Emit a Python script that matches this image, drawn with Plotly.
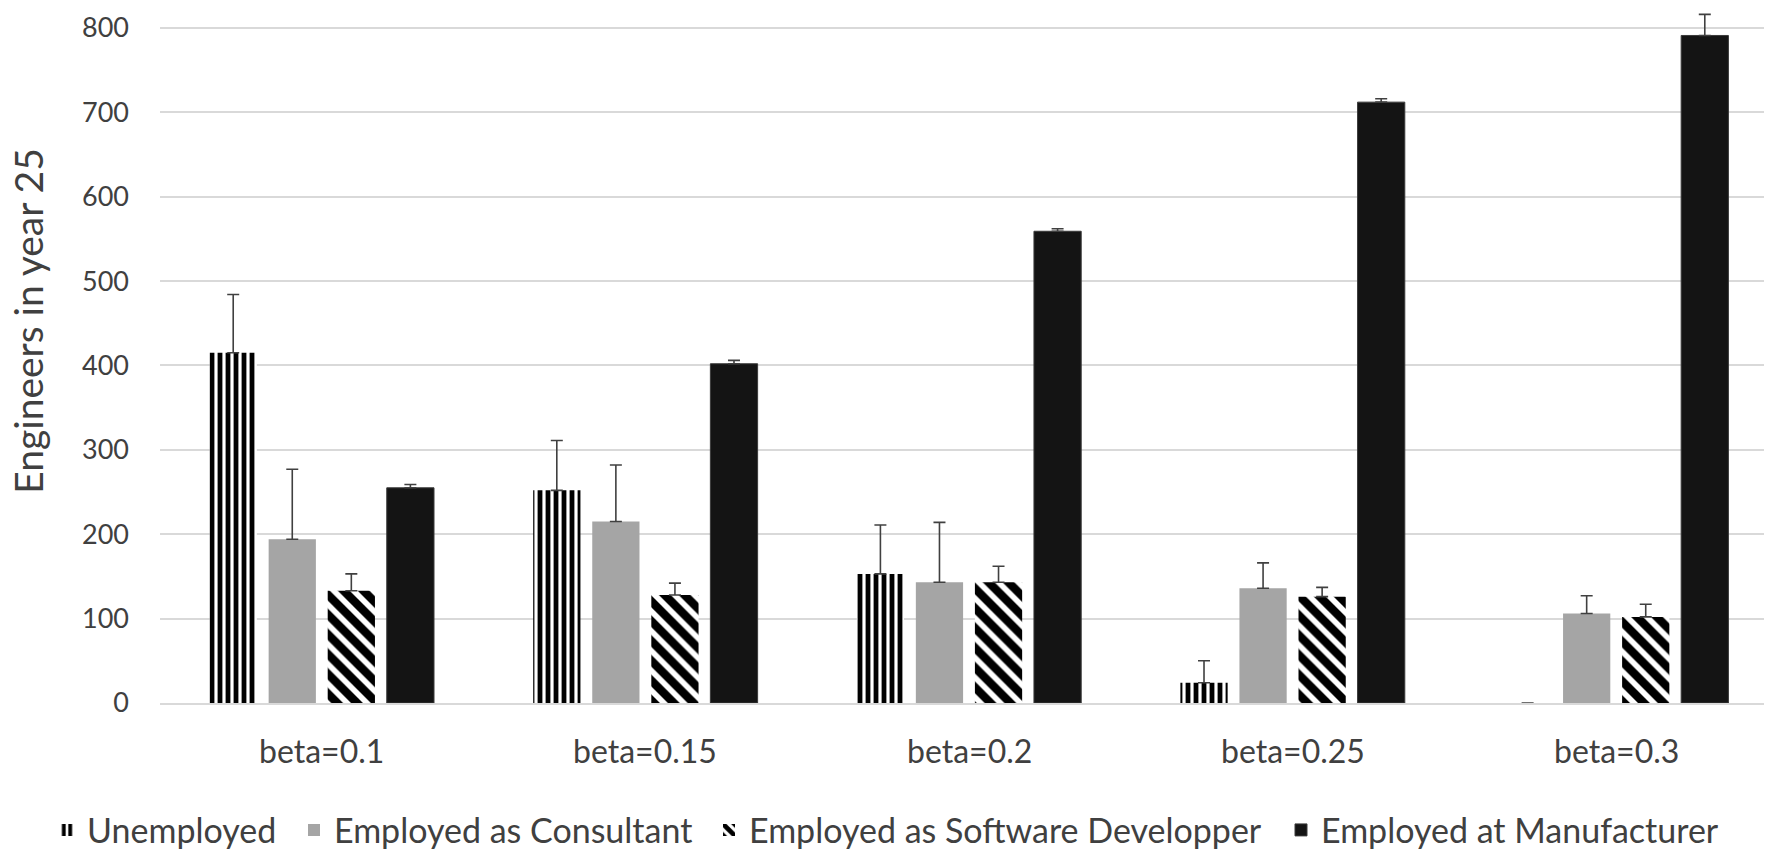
import plotly.graph_objects as go

categories = ["beta=0.1", "beta=0.15", "beta=0.2", "beta=0.25", "beta=0.3"]

unemployed = [415, 252, 153, 24, 0]
unemployed_err = [69, 59, 58, 26, None]
consultant = [194, 215, 143, 136, 106]
consultant_err = [83, 67, 71, 30, 21]
software = [133, 128, 143, 126, 102]
software_err = [20, 14, 19, 11, 15]
manufacturer = [255, 402, 559, 712, 791]
manufacturer_err = [4, 4, 3, 4, 25]

font = "Lato"
txt = "#404040"
W, H = 1772, 853


def err(arr):
    return dict(type="data", array=arr, symmetric=False,
                arrayminus=[0] * len(arr), color="#404040",
                thickness=1.6, width=6)


fig = go.Figure()
fig.add_trace(go.Bar(
    name="Unemployed", x=categories, y=unemployed, error_y=err(unemployed_err),
    legend="legend",
    marker=dict(color="white", line=dict(width=0),
                pattern=dict(shape="|", fgcolor="black", bgcolor="white",
                             fgopacity=1, size=8, solidity=0.6)),
))
fig.add_trace(go.Bar(
    name="Employed as Consultant", x=categories, y=consultant,
    error_y=err(consultant_err), legend="legend2",
    marker=dict(color="#a5a5a5", line=dict(width=0)),
))
fig.add_trace(go.Bar(
    name="Employed as Software Developper", x=categories, y=software,
    error_y=err(software_err), legend="legend3",
    marker=dict(color="white", line=dict(width=0),
                pattern=dict(shape="\\", fgcolor="black", bgcolor="white",
                             fgopacity=1, size=14, solidity=0.6)),
))
fig.add_trace(go.Bar(
    name="Employed at Manufacturer", x=categories, y=manufacturer,
    error_y=err(manufacturer_err), legend="legend4",
    marker=dict(color="#141414", line=dict(color="#3a3a3a", width=1)),
))


# one legend per series so the row spreads like the original
def leg(text_left):
    return dict(orientation="h", xref="container", x=(text_left - 41) / W,
                xanchor="left", yref="container", y=0.036, yanchor="middle",
                font=dict(size=34, color=txt), itemwidth=30,
                bgcolor="rgba(0,0,0,0)")


cat_labels = [dict(text=c, xref="x", x=c, yref="paper", y=0, yshift=-47,
                   yanchor="middle", showarrow=False,
                   font=dict(size=32, color=txt)) for c in categories]

fig.update_layout(
    width=W, height=H,
    margin=dict(l=152, r=2, t=3, b=158, autoexpand=False),
    paper_bgcolor="white", plot_bgcolor="white",
    barmode="group", bargap=0.27, bargroupgap=0.2,
    font=dict(family=font, size=27, color=txt),
    showlegend=True,
    legend=leg(80), legend2=leg(327), legend3=leg(742), legend4=leg(1314),
    xaxis=dict(showline=True, linecolor="#d9d9d9", linewidth=1.5,
               ticks="", showticklabels=False, automargin=False),
    yaxis=dict(range=[0, 820], tickvals=[0, 100, 200, 300, 400, 500, 600, 700, 800],
               showgrid=True, gridcolor="#d9d9d9", gridwidth=1.5,
               zeroline=False, ticks="", tickfont=dict(size=27, color=txt),
               ticklabelstandoff=30, ticklabeloverflow="allow",
               automargin=False),
    annotations=cat_labels + [dict(text="Engineers in year 25", textangle=-90,
                                   xref="paper", x=0, xshift=-132, xanchor="center",
                                   yref="y", y=453, yanchor="middle", showarrow=False,
                                   font=dict(size=39, color=txt))],
)

fig.write_html("out.html")
